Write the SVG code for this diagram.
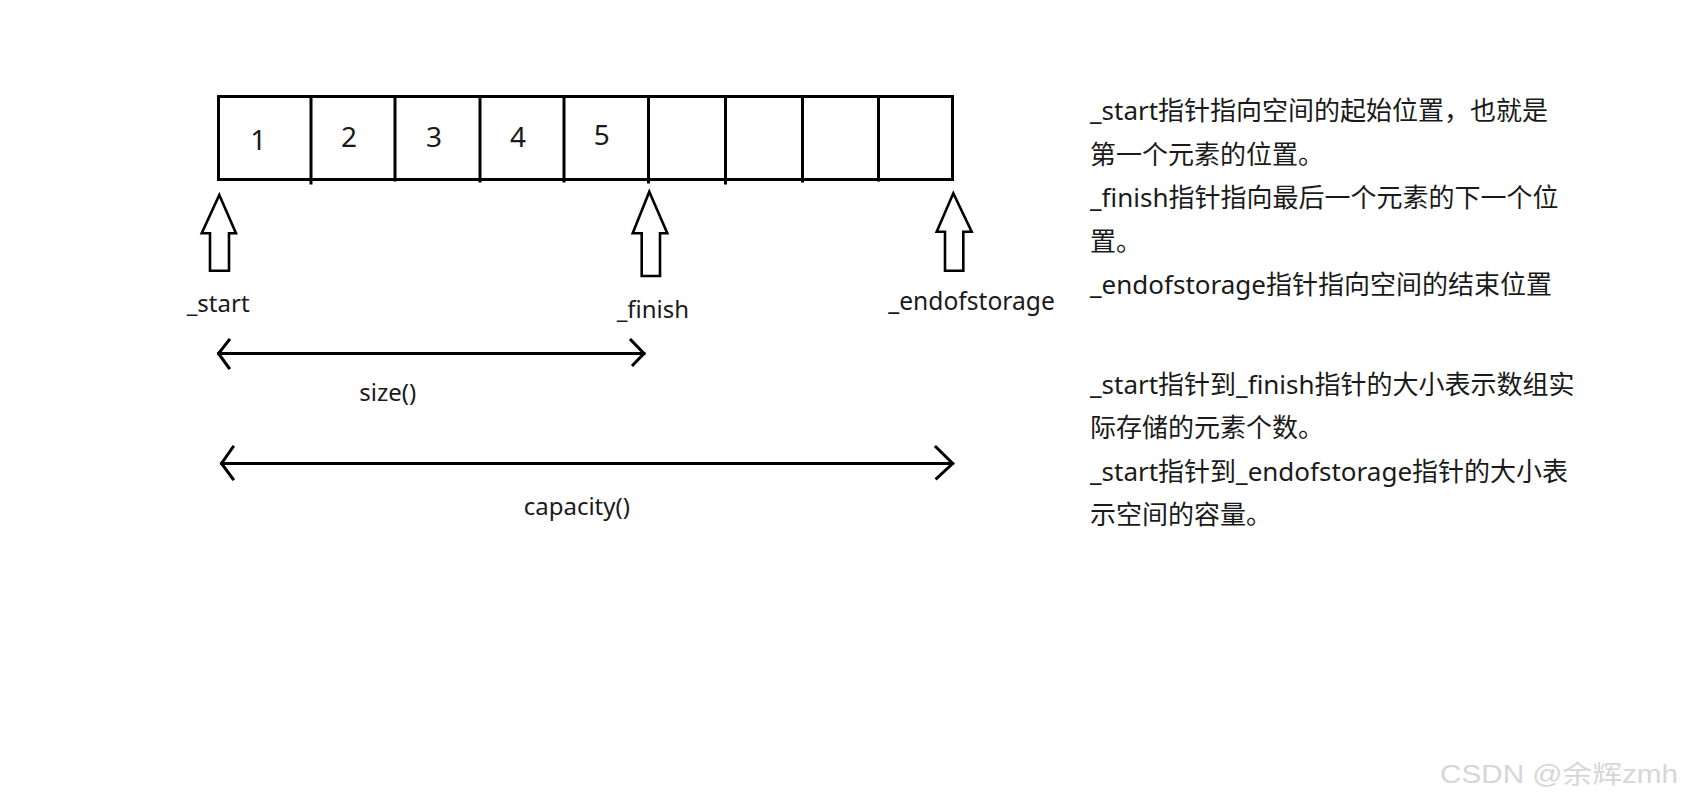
<svg xmlns="http://www.w3.org/2000/svg" width="1686" height="803" viewBox="0 0 1686 803">
<style>
.ln{fill:none;stroke:#000;stroke-width:3;stroke-linecap:square;stroke-linejoin:miter}
.ar{fill:#fff;stroke:#000;stroke-width:2.6;stroke-linejoin:miter}
.num{font-family:"Noto Sans","Noto Sans CJK SC",sans-serif;font-size:28px;fill:#1a1a1a;text-anchor:middle}
.lbl{font-family:"Noto Sans","Noto Sans CJK SC",sans-serif;font-size:24px;fill:#1a1a1a}
.txt{font-family:"Noto Sans","Noto Sans CJK SC",sans-serif;font-size:26px;fill:#1a1a1a}
.wm{font-family:"Liberation Sans","Noto Sans CJK SC",sans-serif;font-size:25px;fill:#d6d6d6}
</style>
<rect width="1686" height="803" fill="#fff"/>
<g id="array">
<rect class="ln" x="218.5" y="96.5" width="734" height="83"/>
<path class="ln" d="M311 97V183M395 97V180M480 97V181M564 97V181M648.5 97V182M725.5 97V183M802.5 97V181M878.5 97V180"/>
<text class="num" x="258.3" y="150">1</text>
<text class="num" x="349" y="147">2</text>
<text class="num" x="434" y="147">3</text>
<text class="num" x="518" y="147">4</text>
<text class="num" x="601.7" y="145">5</text>
</g>
<g id="ptr-start">
<polygon class="ar" points="219.3,195 236,233.3 229,233.3 229,270.7 210,270.7 210,233.3 201.7,233.3"/>
<text class="lbl" x="186.7" y="311.7">_start</text>
</g>
<g id="ptr-finish">
<polygon class="ar" points="649.3,191.7 667.3,233.3 660,233.3 660,276 641.7,276 641.7,233.3 632.7,233.3"/>
<text class="lbl" x="616.7" y="318">_finish</text>
</g>
<g id="ptr-endofstorage">
<polygon class="ar" points="953.3,193.3 971.7,231.7 963.3,231.7 963.3,270.7 945,270.7 945,231.7 936.7,231.7"/>
<text class="lbl" x="888.3" y="310" style="font-size:24.6px">_endofstorage</text>
</g>
<g id="connectors">
<path class="ln" d="M218.5 353.5H644M229 340L218.5 353.5L229 368M631 340L644 353.5L633 365"/>
<path class="ln" d="M221.5 463.5H952.7M233 447L221.5 463.5L233 479M936 447L952.7 463.5L936.7 478.3"/>
</g>
<g id="size-label"><text class="lbl" x="359.3" y="400.7">size()</text></g>
<g id="capacity-label"><text class="lbl" x="523.7" y="515">capacity()</text></g>
<g id="notes">
<text class="txt" x="1090" y="120">_start指针指向空间的起始位置，也就是</text>
<text class="txt" x="1090" y="163.5">第一个元素的位置。</text>
<text class="txt" x="1090" y="207">_finish指针指向最后一个元素的下一个位</text>
<text class="txt" x="1090" y="250.5">置。</text>
<text class="txt" x="1090" y="294">_endofstorage指针指向空间的结束位置</text>
<text class="txt" x="1090" y="393.5">_start指针到_finish指针的大小表示数组实</text>
<text class="txt" x="1090" y="437">际存储的元素个数。</text>
<text class="txt" x="1090" y="480.5">_start指针到_endofstorage指针的大小表</text>
<text class="txt" x="1090" y="524">示空间的容量。</text>
</g>
<text class="wm" x="1440" y="783" textLength="238" lengthAdjust="spacingAndGlyphs">CSDN @余辉zmh</text>
</svg>
